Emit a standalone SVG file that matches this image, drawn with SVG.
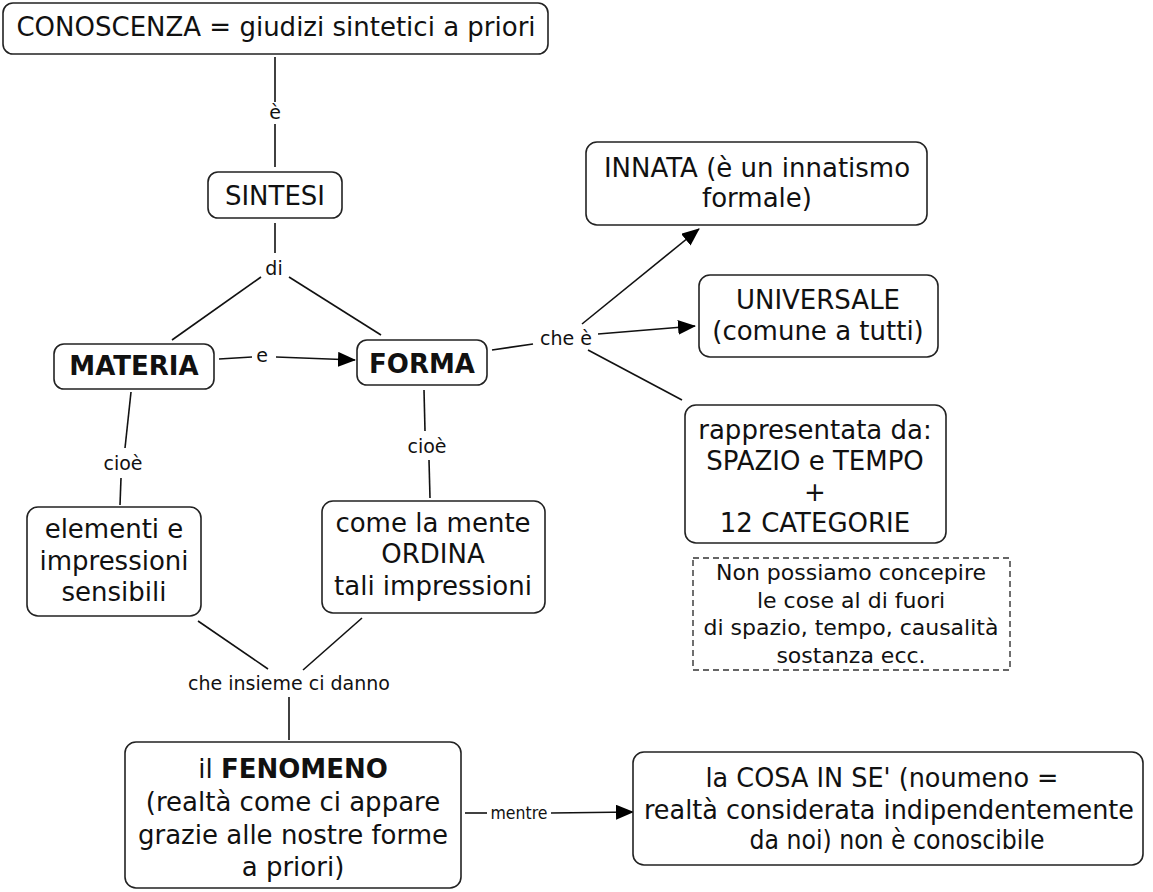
<svg xmlns="http://www.w3.org/2000/svg" width="1153" height="892" viewBox="0 0 1153 892">
<defs>
<marker id="arr" viewBox="0 0 18 15" refX="17" refY="7.5" markerWidth="18" markerHeight="15" markerUnits="userSpaceOnUse" orient="auto">
<path d="M0,0 L18,7.5 L0,15 Z" fill="#000"/>
</marker>
</defs>
<style>
rect.n{fill:#fff;stroke:#222;stroke-width:1.6}
rect.d{fill:#fff;stroke:#333;stroke-width:1.4;stroke-dasharray:6 4}
text{font-family:"DejaVu Sans","Verdana",sans-serif;fill:#111;text-anchor:middle}
.t{font-size:26px}
.b{font-size:26px;font-weight:bold}
.l{font-size:19px}
.s{font-size:22px}
.c{font-family:"DejaVu Sans Condensed","DejaVu Sans",sans-serif;font-size:27px}
.lc{font-family:"DejaVu Sans Condensed","DejaVu Sans",sans-serif;font-size:18px}
#connectors line{stroke:#111;stroke-width:1.6;fill:none}
#connectors line.a{marker-end:url(#arr)}
</style>
<rect width="1153" height="892" fill="#fff"/>
<g id="connectors">
<line x1="275" y1="57" x2="275" y2="102"/>
<text class="l" x="275" y="119">è</text>
<line x1="275" y1="124" x2="275" y2="167"/>
<line x1="275" y1="223" x2="275" y2="253"/>
<text class="l" x="274" y="275">di</text>
<line x1="261" y1="277" x2="172" y2="340"/>
<line x1="289" y1="277" x2="381" y2="335"/>
<line x1="219" y1="359" x2="252" y2="357"/>
<text class="l" x="262" y="362">e</text>
<line class="a" x1="276" y1="357" x2="355" y2="360"/>
<line x1="492" y1="350" x2="533" y2="344"/>
<text class="l" x="566" y="345">che è</text>
<line class="a" x1="582" y1="324" x2="699" y2="229"/>
<line class="a" x1="598" y1="334" x2="695" y2="326"/>
<line x1="588" y1="350" x2="682" y2="400"/>
<line x1="131" y1="392" x2="125" y2="448"/>
<text class="l" x="123" y="470">cioè</text>
<line x1="121" y1="478" x2="120" y2="505"/>
<line x1="424" y1="390" x2="425" y2="431"/>
<text class="l" x="427" y="453">cioè</text>
<line x1="429" y1="460" x2="430" y2="498"/>
<line x1="198" y1="621" x2="268" y2="669"/>
<line x1="362" y1="618" x2="303" y2="670"/>
<text class="l" x="289" y="690">che insieme ci danno</text>
<line x1="289" y1="697" x2="289" y2="740"/>
<line x1="465" y1="813" x2="487" y2="813"/>
<text class="lc" x="519" y="819" textLength="57" lengthAdjust="spacingAndGlyphs">mentre</text>
<line class="a" x1="551" y1="813" x2="633" y2="812"/>
</g>
<g id="n-conoscenza">
<rect class="n" x="3" y="3" width="545" height="51" rx="10"/>
<text class="t" x="276" y="36">CONOSCENZA = giudizi sintetici a priori</text>
</g>
<g id="n-sintesi">
<rect class="n" x="208" y="172" width="134" height="46" rx="10"/>
<text class="t" x="275" y="205">SINTESI</text>
</g>
<g id="n-materia">
<rect class="n" x="54" y="344" width="160" height="45" rx="10"/>
<text class="b" x="134" y="375">MATERIA</text>
</g>
<g id="n-forma">
<rect class="n" x="357" y="340" width="130" height="45" rx="10"/>
<text class="b" x="422" y="373">FORMA</text>
</g>
<g id="n-innata">
<rect class="n" x="586" y="142" width="341" height="83" rx="11"/>
<text class="t" x="757" y="177">INNATA (è un innatismo</text>
<text class="t" x="757" y="207">formale)</text>
</g>
<g id="n-universale">
<rect class="n" x="699" y="275" width="239" height="82" rx="11"/>
<text class="t" x="818" y="309">UNIVERSALE</text>
<text class="t" x="818" y="340">(comune a tutti)</text>
</g>
<g id="n-rappresentata">
<rect class="n" x="685" y="405" width="261" height="138" rx="11"/>
<text class="t" x="815" y="439">rappresentata da:</text>
<text class="t" x="815" y="470">SPAZIO e TEMPO</text>
<text class="t" x="815" y="501">+</text>
<text class="t" x="815" y="532">12 CATEGORIE</text>
</g>
<g id="n-nota">
<rect class="d" x="693" y="558" width="317" height="112"/>
<text class="s" x="851" y="580">Non possiamo concepire</text>
<text class="s" x="851" y="608">le cose al di fuori</text>
<text class="s" x="851" y="635">di spazio, tempo, causalità</text>
<text class="s" x="851" y="663">sostanza ecc.</text>
</g>
<g id="n-elementi">
<rect class="n" x="27" y="507" width="174" height="109" rx="11"/>
<text class="t" x="114" y="538">elementi e</text>
<text class="t" x="114" y="570">impressioni</text>
<text class="t" x="114" y="601">sensibili</text>
</g>
<g id="n-mente">
<rect class="n" x="322" y="501" width="223" height="112" rx="11"/>
<text class="t" x="433" y="532">come la mente</text>
<text class="t" x="433" y="563">ORDINA</text>
<text class="t" x="433" y="595">tali impressioni</text>
</g>
<g id="n-fenomeno">
<rect class="n" x="125" y="742" width="336" height="146" rx="11"/>
<text class="t" x="293" y="778">il <tspan font-weight="bold">FENOMENO</tspan></text>
<text class="t" x="293" y="811">(realtà come ci appare</text>
<text class="t" x="293" y="844">grazie alle nostre forme</text>
<text class="t" x="293" y="876">a priori)</text>
</g>
<g id="n-cosa">
<rect class="n" x="633" y="752" width="510" height="113" rx="11"/>
<text class="c" x="882" y="787" textLength="353" lengthAdjust="spacingAndGlyphs">la COSA IN SE' (noumeno =</text>
<text class="c" x="889" y="819" textLength="490" lengthAdjust="spacingAndGlyphs">realtà considerata indipendentemente</text>
<text class="c" x="897" y="849" textLength="295" lengthAdjust="spacingAndGlyphs">da noi) non è conoscibile</text>
</g>
</svg>
